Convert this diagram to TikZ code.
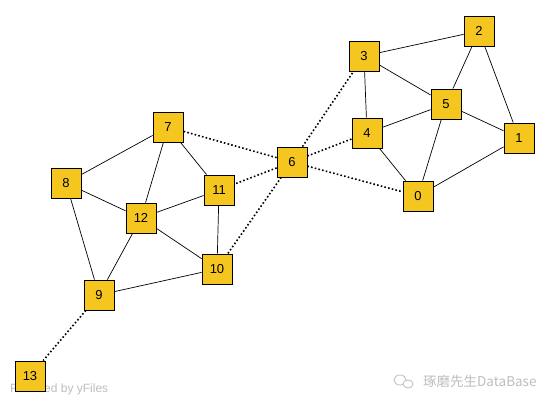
\documentclass[tikz,border=0pt]{standalone}
\usepackage{fontspec}
\setmainfont{Liberation Sans}
\newfontfamily\cjkfont{Noto Sans CJK SC}
\definecolor{nodefill}{RGB}{246,198,32}
\definecolor{wmgray}{RGB}{190,190,190}
\begin{document}
\begin{tikzpicture}[x=1pt,y=-1pt,
  vbox/.style={draw=black,fill=nodefill,minimum width=30pt,minimum height=30pt,inner sep=0pt,font=\fontsize{13}{13}\selectfont,line width=0.8pt},
  solidedge/.style={draw=black,line width=0.7pt},
  dotedge/.style={draw=black,line width=1.6pt,dash pattern=on 1.6pt off 2.2pt},
  wmtext/.style={text=wmgray,inner sep=0pt,anchor=west}]
\useasboundingbox (0,0) rectangle (550,406);
\fill[white] (0,0) rectangle (550,406);
% watermarks
\node[wmtext,font=\fontsize{12}{12}\selectfont] (wm1) at (10,389) {Powered by yFiles};
\node[wmtext,font=\fontsize{13.5}{13.5}\selectfont] (wm2) at (423,381) {\cjkfont 琢磨先生DataBase};
\draw[wmgray,line width=0.8pt] (400,380) ellipse (6pt and 5pt);
\draw[wmgray,line width=0.8pt,fill=white] (408,384) ellipse (5pt and 4pt);
% nodes
\node[vbox] (n0) at (418,196) {0};
\node[vbox] (n1) at (519,138) {1};
\node[vbox] (n2) at (479,31) {2};
\node[vbox] (n3) at (364,56) {3};
\node[vbox] (n4) at (367,133) {4};
\node[vbox] (n5) at (446,104) {5};
\node[vbox] (n6) at (292,162) {6};
\node[vbox] (n7) at (168,127) {7};
\node[vbox] (n8) at (66,183) {8};
\node[vbox] (n9) at (99,295) {9};
\node[vbox] (n10) at (217,269) {10};
\node[vbox] (n11) at (219,190) {11};
\node[vbox] (n12) at (141,218) {12};
\node[vbox] (n13) at (30,376) {13};
% edges
\path[solidedge] (n3) -- (n2) (n2) -- (n5) (n2) -- (n1) (n3) -- (n5) (n3) -- (n4)
  (n4) -- (n5) (n5) -- (n1) (n5) -- (n0) (n4) -- (n0) (n0) -- (n1)
  (n7) -- (n8) (n7) -- (n12) (n7) -- (n11) (n8) -- (n12) (n8) -- (n9)
  (n12) -- (n11) (n12) -- (n10) (n12) -- (n9) (n11) -- (n10) (n9) -- (n10);
\path[dotedge] (n6) -- (n3) (n6) -- (n4) (n6) -- (n0) (n6) -- (n7) (n6) -- (n11) (n6) -- (n10) (n9) -- (n13);
\end{tikzpicture}
\end{document}
